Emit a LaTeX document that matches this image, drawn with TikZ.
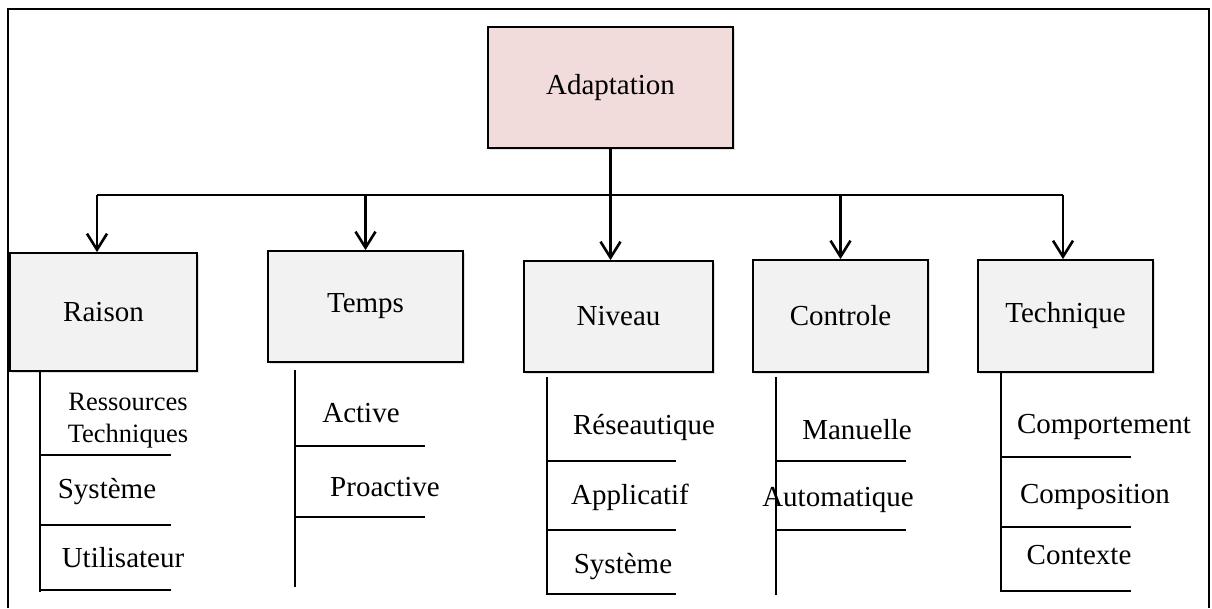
\documentclass[tikz,border=0pt]{standalone}
\usepackage{fontspec}
\setmainfont{Liberation Serif}
\usetikzlibrary{arrows.meta,shadows}
\begin{document}
\begin{tikzpicture}[x=1pt,y=-1pt,
  catbox/.style={draw=black, line width=1.8pt, fill=black!5, inner sep=0pt,
    font=\fontsize{29}{33}\selectfont,
    drop shadow={shadow xshift=2pt, shadow yshift=-2pt, opacity=0.25}},
  rootbox/.style={catbox, fill={rgb,255:red,242;green,220;blue,219}},
  arr/.style={line width=2.6pt, -{Straight Barb[length=16pt,width=20pt,line width=2.6pt]}},
  ln/.style={line width=2.6pt},
  item/.style={font=\fontsize{29}{33}\selectfont, inner sep=0pt, align=center}]
\useasboundingbox (0,0) rectangle (1212,608);
% frame
\draw[line width=1.8pt] (8,608) -- (8,9) -- (1209,9) -- (1209,608);
% boxes
\node[rootbox, minimum width=245pt, minimum height=121pt] (adapt) at (610.5,87.5) {Adaptation};
\node[catbox, minimum width=187pt, minimum height=118pt] (raison) at (103.5,312) {Raison};
\node[catbox, minimum width=195pt, minimum height=111pt] (temps) at (365.5,306.5) {Temps};
\node[catbox, minimum width=189pt, minimum height=111pt] (niveau) at (618.5,316.5) {Niveau};
\node[catbox, minimum width=175pt, minimum height=112pt] (controle) at (840.5,316) {Controle};
\node[catbox, minimum width=175pt, minimum height=112pt] (technique) at (1065.5,316) {Technique};
% bus
\coordinate (busL) at (97,195);
\coordinate (busR) at (1063,195);
\draw[ln] (busL) -- (busR);
\draw[arr] (adapt.south) -- (adapt.south |- niveau.north);
\draw[arr] (busL) -- (busL |- raison.north);
\draw[arr] (temps.north |- busL) -- (temps.north);
\draw[arr] (controle.north |- busL) -- (controle.north);
\draw[arr] (busR) -- (busR |- technique.north);
% Raison list
\draw[ln] (40,372) -- (40,592);
\draw[ln] (40,455) -- (171,455);
\draw[ln] (40,525) -- (171,525);
\draw[ln] (40,590) -- (171,590);
\node[item, font=\fontsize{26.5}{32}\selectfont] (r1) at (128,421) {Ressources\\Techniques};
\node[item] (r2) at (107,492) {Système};
\node[item] (r3) at (123,558) {Utilisateur};
% Temps list
\draw[ln] (295,370) -- (295,587);
\draw[ln] (295,446) -- (425,446);
\draw[ln] (295,517) -- (425,517);
\node[item] (t1) at (361,413) {Active};
\node[item] (t2) at (385,487) {Proactive};
% Niveau list
\draw[ln] (547,377) -- (547,595);
\draw[ln] (547,461) -- (676,461);
\draw[ln] (547,530) -- (676,530);
\draw[ln] (547,594) -- (676,594);
\node[item] (n1) at (644,427) {Réseautique};
\node[item] (n2) at (630,497) {Applicatif};
\node[item] (n3) at (623,567) {Système};
% Controle list
\draw[ln] (776,377) -- (776,595);
\draw[ln] (776,461) -- (906,461);
\draw[ln] (776,530) -- (906,530);
\node[item] (c1) at (857,430) {Manuelle};
\node[item] (c2) at (838,500) {Automatique};
% Technique list
\draw[ln] (1001,372) -- (1001,592);
\draw[ln] (1001,457) -- (1131,457);
\draw[ln] (1001,527) -- (1131,527);
\draw[ln] (1001,591) -- (1131,591);
\node[item] (q1) at (1104,427) {Comportement};
\node[item] (q2) at (1095,497) {Composition};
\node[item] (q3) at (1079,555) {Contexte};
\end{tikzpicture}
\end{document}
